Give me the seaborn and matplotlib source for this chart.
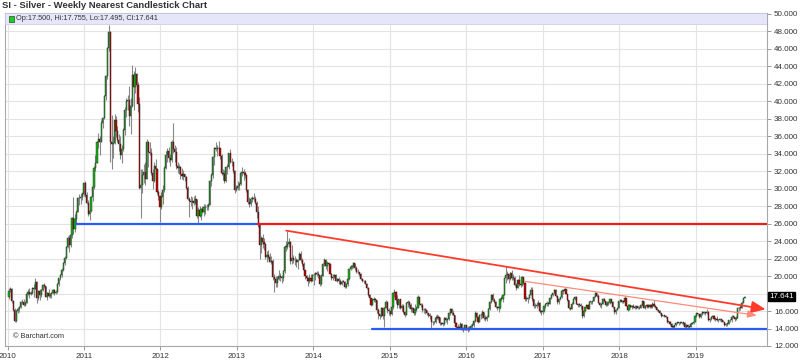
import numpy as np
import pandas as pd
import matplotlib
matplotlib.use("Agg")
import matplotlib.pyplot as plt
import matplotlib.dates as mdates
from matplotlib.patches import Rectangle
import seaborn as sns

# Weekly bars (Friday closes), one row per year 2010..2019
first_week = "2010-01-08"
first_open = 17.60  # open of the first bar; later opens are the prior close

close = [
    18.35, 18.55, 17.10, 16.17, 14.84, 15.97, 16.25, 16.43, 16.98, 17.07, 16.72, 16.91, 17.98, 18.18, 17.92, 18.09, 18.61, 18.55, 19.31, 17.46, 18.31, 17.87, 18.40, 19.01, 18.87, 17.66, 18.04, 17.73, 17.92, 18.04, 18.40, 18.10, 18.18, 19.06, 19.78, 20.13, 20.75, 21.50, 22.10, 23.27, 24.41, 23.50, 24.72, 26.66, 25.44, 26.52, 27.38, 28.88, 28.90, 29.04, 29.34, 30.63,
    29.32, 28.40, 27.06, 27.40, 29.02, 30.18, 32.40, 32.95, 35.39, 35.71, 35.36, 37.51, 38.03, 40.61, 42.85, 46.04, 47.90, 35.29, 35.08, 35.27, 37.81, 36.55, 35.59, 35.06, 33.83, 34.52, 36.73, 39.05, 40.05, 40.11, 38.34, 39.51, 43.02, 41.69, 43.13, 41.82, 39.72, 30.07, 30.46, 31.53, 31.87, 31.13, 35.37, 34.21, 34.09, 31.74, 30.86, 32.63, 32.21, 29.61, 29.17, 27.91,
    29.02, 29.90, 32.41, 33.80, 34.27, 33.48, 33.26, 35.35, 34.51, 34.21, 32.60, 32.38, 32.48, 31.64, 31.49, 31.68, 31.28, 30.12, 28.87, 28.62, 28.42, 28.58, 28.40, 28.82, 26.90, 27.61, 26.90, 27.63, 27.38, 27.86, 27.87, 27.92, 28.15, 30.86, 31.60, 33.59, 34.63, 34.54, 34.63, 34.65, 33.71, 31.81, 31.65, 30.86, 32.46, 32.44, 34.05, 33.09, 33.00, 32.05, 29.86, 30.04,
    30.35, 30.53, 31.79, 31.88, 31.83, 31.57, 29.81, 28.51, 28.26, 28.85, 28.87, 28.87, 28.35, 27.37, 25.87, 23.52, 24.31, 23.95, 23.71, 22.22, 22.44, 22.22, 21.63, 21.68, 19.87, 19.68, 19.23, 19.70, 20.06, 19.88, 19.83, 20.58, 23.32, 23.32, 23.64, 23.93, 21.68, 22.08, 21.84, 21.80, 21.61, 21.86, 22.54, 21.82, 21.42, 20.75, 19.97, 19.82, 19.48, 19.75, 19.46, 20.10,
    20.07, 20.37, 20.28, 20.08, 19.15, 20.06, 21.40, 21.85, 21.20, 21.50, 21.42, 20.22, 19.78, 19.95, 20.10, 19.47, 19.67, 19.45, 19.09, 19.37, 19.36, 18.71, 19.05, 19.66, 20.78, 21.06, 21.15, 21.49, 20.90, 20.52, 20.43, 20.28, 19.71, 19.38, 19.40, 19.15, 18.63, 17.80, 17.49, 16.73, 17.31, 17.35, 17.21, 16.10, 15.68, 15.46, 16.37, 15.45, 16.40, 17.07, 16.17, 15.99,
    15.68, 16.41, 18.08, 18.13, 17.22, 16.66, 17.33, 16.31, 16.60, 15.89, 15.57, 16.87, 16.98, 16.73, 16.20, 16.40, 15.73, 16.13, 16.38, 17.62, 16.77, 16.70, 16.07, 16.10, 16.14, 15.77, 15.55, 15.40, 14.76, 14.72, 14.71, 15.26, 15.22, 15.34, 14.63, 14.56, 14.54, 15.20, 15.01, 15.11, 15.79, 16.20, 15.76, 15.58, 14.67, 14.21, 14.11, 14.10, 14.52, 13.88, 13.86, 14.35,
    13.82, 14.01, 14.01, 14.27, 14.38, 14.83, 15.79, 15.31, 14.71, 15.53, 15.51, 15.87, 15.18, 15.07, 15.34, 16.24, 16.99, 17.83, 17.29, 17.06, 16.48, 16.36, 16.34, 17.41, 17.39, 17.80, 19.77, 20.11, 20.29, 19.63, 20.38, 19.80, 19.82, 19.03, 18.68, 19.55, 19.09, 18.93, 19.84, 19.23, 17.35, 17.42, 17.53, 17.83, 18.35, 17.37, 16.58, 16.55, 16.70, 16.94, 16.03, 15.92, 15.99,
    16.55, 16.78, 16.94, 16.81, 17.52, 17.82, 18.01, 18.38, 17.70, 17.00, 17.41, 17.60, 18.28, 18.29, 18.54, 17.94, 17.23, 16.32, 16.29, 16.86, 17.40, 17.55, 16.85, 16.72, 16.68, 16.56, 15.43, 16.00, 16.46, 16.72, 16.27, 17.02, 17.02, 17.11, 17.62, 18.03, 17.71, 16.95, 16.66, 16.81, 17.38, 17.13, 16.72, 16.88, 16.90, 17.34, 17.04, 16.43, 15.86, 16.13, 16.34, 17.15,
    17.26, 17.08, 17.05, 17.47, 16.63, 16.10, 16.67, 16.47, 16.59, 16.49, 16.33, 16.53, 16.31, 16.37, 16.67, 17.13, 16.35, 16.57, 16.70, 16.48, 16.74, 16.44, 16.81, 16.54, 16.47, 16.11, 16.00, 15.82, 15.47, 15.49, 15.41, 15.31, 14.79, 14.80, 14.46, 14.21, 14.18, 14.35, 14.64, 14.64, 14.61, 14.61, 14.73, 14.66, 14.17, 14.44, 14.20, 14.16, 14.51, 14.66, 14.73, 15.45,
    15.72, 15.63, 15.28, 15.68, 15.89, 15.81, 15.78, 15.90, 15.03, 15.09, 15.35, 15.45, 15.09, 15.11, 15.00, 14.95, 15.07, 14.93, 14.78, 14.43, 14.55, 14.56, 14.95, 14.93, 15.37, 15.33, 15.04, 15.21, 16.32, 16.39, 16.37, 16.95, 17.50, 17.641,
]

high = [
    18.6, 18.8, 18.6, 17.3, 16.4, 16.1, 16.5, 16.6, 17.1, 17.4, 17.4, 17.1, 18.1, 18.5, 18.6, 18.3, 18.8, 19.1, 19.8, 19.4, 18.4, 18.5, 18.5, 19.1, 19.2, 18.9, 18.2, 18.5, 18.1, 18.2, 18.5, 18.5, 18.4, 19.2, 19.8, 20.2, 20.9, 21.6, 22.3, 23.4, 24.6, 24.7, 24.8, 26.8, 29.0, 27.1, 27.6, 29.0, 29.4, 29.5, 29.6, 30.8,
    30.9, 29.6, 28.7, 27.9, 29.2, 30.4, 32.6, 33.9, 35.5, 36.4, 36.0, 37.9, 38.2, 40.7, 43.0, 46.2, 48.7, 48.0, 38.4, 36.0, 38.6, 38.3, 37.2, 36.2, 36.0, 35.0, 36.9, 39.4, 40.4, 40.7, 41.7, 40.4, 44.2, 43.5, 43.9, 43.2, 42.2, 40.5, 32.3, 32.3, 32.8, 33.1, 35.7, 35.4, 35.3, 34.7, 32.3, 33.1, 33.4, 32.4, 29.8, 29.3,
    29.6, 30.4, 32.6, 34.3, 34.7, 34.8, 34.0, 35.6, 37.5, 35.0, 34.8, 33.1, 32.8, 32.6, 32.4, 32.1, 31.7, 31.5, 30.3, 29.0, 29.2, 29.0, 29.2, 29.3, 28.8, 27.9, 28.0, 27.8, 28.0, 28.2, 28.3, 28.2, 28.4, 31.0, 31.8, 33.7, 34.8, 35.3, 35.0, 35.4, 34.7, 34.0, 32.2, 32.1, 32.6, 32.8, 34.1, 34.5, 33.5, 33.2, 32.1, 30.4,
    30.9, 30.8, 31.9, 32.5, 32.2, 32.0, 31.7, 30.0, 29.0, 29.1, 29.2, 29.5, 29.2, 28.6, 28.0, 26.0, 24.6, 24.8, 24.3, 23.8, 22.9, 23.0, 22.6, 22.3, 22.0, 20.2, 20.0, 20.0, 20.7, 20.3, 20.1, 20.7, 23.4, 24.0, 25.2, 24.3, 24.0, 23.5, 22.4, 22.3, 22.1, 22.0, 22.8, 22.9, 22.1, 21.6, 20.7, 20.1, 19.9, 20.2, 20.2, 20.2,
    20.3, 20.5, 20.6, 20.6, 20.1, 20.2, 21.5, 22.1, 21.9, 21.7, 21.6, 21.5, 20.3, 20.2, 20.2, 20.2, 19.8, 19.9, 19.7, 19.5, 19.6, 19.4, 19.2, 19.8, 20.8, 21.3, 21.3, 21.6, 21.5, 21.1, 20.8, 20.5, 20.3, 19.8, 19.6, 19.6, 19.2, 18.8, 17.9, 17.5, 17.5, 17.6, 17.5, 17.3, 16.3, 15.7, 16.5, 16.5, 16.5, 17.3, 17.2, 16.3,
    16.0, 16.6, 18.2, 18.5, 18.3, 17.8, 17.4, 17.4, 16.8, 16.8, 16.0, 17.0, 17.3, 17.2, 16.9, 16.5, 16.4, 16.8, 16.6, 17.8, 17.6, 16.9, 16.9, 16.3, 16.3, 16.1, 15.8, 15.8, 15.4, 14.9, 14.9, 15.5, 15.7, 15.6, 15.2, 14.8, 14.8, 15.3, 15.3, 15.2, 15.9, 16.3, 16.3, 16.1, 15.6, 14.8, 14.5, 14.3, 14.7, 14.6, 14.2, 14.5,
    14.4, 14.3, 14.3, 14.5, 14.6, 15.0, 16.0, 15.9, 15.3, 15.7, 15.8, 16.1, 15.8, 15.5, 15.5, 16.4, 17.2, 17.9, 18.1, 17.5, 17.1, 16.6, 16.5, 17.5, 17.7, 17.9, 19.8, 21.1, 20.6, 20.1, 20.5, 20.7, 20.2, 20.0, 19.2, 19.7, 20.1, 19.3, 20.0, 19.9, 19.3, 17.7, 17.6, 17.9, 18.7, 18.7, 17.4, 16.9, 17.0, 17.3, 17.0, 16.1, 16.2,
    16.6, 16.9, 17.1, 17.0, 17.6, 17.9, 18.1, 18.5, 18.5, 17.8, 17.5, 17.6, 18.4, 18.4, 18.6, 18.5, 18.0, 17.3, 16.5, 17.0, 17.5, 17.7, 17.7, 16.9, 16.9, 16.9, 16.6, 16.1, 16.5, 16.8, 16.8, 17.2, 17.2, 17.2, 17.7, 18.2, 18.0, 17.9, 17.0, 16.9, 17.5, 17.5, 17.2, 17.2, 17.2, 17.4, 17.2, 17.1, 16.5, 16.2, 16.4, 17.2,
    17.4, 17.3, 17.3, 17.7, 17.4, 16.8, 16.8, 16.7, 16.7, 16.8, 16.7, 16.6, 16.6, 16.6, 16.8, 17.3, 17.2, 16.7, 16.8, 16.8, 16.8, 16.8, 17.0, 17.3, 16.7, 16.5, 16.2, 16.1, 15.8, 15.6, 15.6, 15.5, 15.3, 14.9, 14.9, 14.6, 14.3, 14.4, 14.7, 14.8, 14.8, 14.7, 14.8, 14.8, 14.7, 14.5, 14.5, 14.3, 14.6, 14.8, 14.8, 15.5,
    15.8, 15.8, 15.7, 15.8, 16.0, 16.0, 15.9, 16.2, 16.0, 15.2, 15.4, 15.6, 15.5, 15.2, 15.4, 15.1, 15.2, 15.1, 15.0, 14.8, 14.6, 14.6, 15.0, 15.1, 15.5, 15.5, 15.3, 15.4, 16.4, 16.5, 16.6, 17.2, 17.5, 17.755,
]

low = [
    17.4, 18.2, 16.9, 16.0, 14.7, 14.8, 15.8, 15.9, 16.4, 16.8, 16.6, 16.6, 16.9, 17.8, 17.5, 17.8, 17.9, 17.6, 18.5, 16.9, 17.3, 17.3, 17.6, 18.3, 18.6, 17.6, 17.3, 17.6, 17.5, 17.5, 17.9, 17.8, 17.9, 18.1, 18.9, 19.6, 19.9, 20.6, 21.3, 21.9, 23.2, 22.8, 23.3, 24.4, 24.8, 25.0, 26.0, 27.3, 28.1, 28.2, 28.7, 29.2,
    29.0, 28.2, 26.9, 26.4, 27.3, 28.6, 30.0, 32.0, 33.1, 34.7, 33.9, 35.3, 36.9, 38.0, 40.2, 42.6, 45.8, 33.0, 32.3, 33.5, 35.1, 35.9, 35.3, 34.3, 33.4, 32.9, 34.3, 36.1, 38.2, 39.0, 37.2, 36.2, 39.4, 39.0, 40.9, 40.0, 38.8, 30.0, 26.6, 29.5, 30.7, 30.4, 31.1, 32.5, 33.8, 31.6, 30.0, 30.8, 31.6, 29.4, 28.7, 26.2,
    27.7, 28.3, 29.6, 32.2, 33.0, 33.1, 32.6, 33.0, 34.1, 33.0, 32.3, 31.8, 31.7, 31.1, 31.1, 31.0, 30.9, 30.0, 28.7, 26.8, 28.0, 27.7, 28.1, 28.2, 26.6, 26.1, 26.8, 26.4, 27.2, 26.9, 27.1, 27.6, 27.6, 28.2, 30.3, 31.2, 32.7, 34.3, 33.7, 34.2, 33.4, 31.6, 31.0, 30.6, 30.8, 31.7, 32.3, 32.9, 32.6, 31.8, 29.5, 29.7,
    29.8, 29.9, 30.4, 31.5, 31.0, 31.2, 29.6, 28.2, 27.9, 28.0, 28.5, 28.6, 28.2, 26.6, 25.6, 22.0, 22.6, 23.2, 23.0, 22.0, 21.6, 21.9, 21.6, 21.4, 19.6, 18.2, 18.8, 18.8, 19.5, 19.4, 19.2, 19.4, 20.4, 22.9, 23.1, 23.3, 21.4, 21.4, 21.5, 21.3, 21.0, 20.8, 21.8, 21.6, 21.2, 20.3, 19.7, 19.4, 18.9, 19.2, 19.3, 19.4,
    19.0, 19.6, 20.0, 19.8, 18.9, 19.0, 20.0, 21.2, 20.8, 20.6, 21.1, 20.2, 19.6, 19.5, 19.8, 19.4, 19.3, 19.1, 19.0, 19.0, 19.3, 18.6, 18.6, 18.9, 19.5, 20.7, 20.8, 20.9, 20.7, 20.4, 20.2, 20.0, 19.6, 19.3, 19.2, 19.1, 18.5, 17.7, 17.1, 16.6, 16.7, 17.0, 17.0, 15.8, 15.1, 15.1, 15.3, 15.1, 14.2, 16.3, 15.8, 15.6,
    15.4, 15.6, 16.2, 17.6, 16.9, 16.4, 16.4, 16.2, 16.0, 15.8, 15.3, 15.5, 16.5, 16.4, 15.9, 15.9, 15.6, 15.6, 16.0, 16.3, 16.7, 16.5, 15.9, 15.8, 15.7, 15.6, 15.3, 15.1, 14.1, 14.4, 14.5, 14.6, 15.1, 15.0, 14.4, 14.4, 14.3, 14.4, 14.7, 14.5, 15.0, 15.6, 15.6, 15.5, 14.6, 14.1, 14.0, 13.9, 13.9, 13.8, 13.6, 13.8,
    13.8, 13.6, 13.7, 13.9, 14.0, 14.2, 14.8, 15.1, 14.6, 14.7, 15.1, 15.2, 15.0, 14.9, 14.9, 15.3, 16.1, 16.9, 17.2, 16.9, 16.3, 16.1, 15.9, 16.2, 17.1, 17.0, 17.8, 19.2, 19.6, 19.2, 19.5, 19.6, 19.5, 18.9, 18.4, 18.6, 18.9, 18.8, 18.9, 19.1, 17.1, 17.1, 16.9, 17.4, 17.8, 17.1, 16.4, 16.3, 16.4, 16.6, 15.8, 15.6, 15.7,
    15.9, 16.4, 16.6, 16.6, 16.8, 17.4, 17.7, 17.9, 17.6, 16.8, 16.8, 17.3, 17.5, 18.0, 18.2, 17.9, 17.2, 16.2, 16.1, 16.2, 16.8, 17.3, 16.8, 16.5, 16.5, 16.2, 15.2, 15.3, 15.9, 16.3, 16.2, 16.2, 16.8, 16.8, 17.1, 17.6, 17.6, 16.9, 16.5, 16.4, 16.9, 17.0, 16.6, 16.6, 16.7, 16.8, 16.9, 16.3, 15.7, 15.7, 16.1, 16.3,
    17.0, 16.9, 16.9, 17.0, 16.6, 16.0, 16.1, 16.3, 16.2, 16.4, 16.2, 16.2, 16.2, 16.2, 16.3, 16.6, 16.3, 16.2, 16.3, 16.3, 16.4, 16.4, 16.4, 16.5, 16.3, 16.0, 15.9, 15.7, 15.3, 15.4, 15.3, 15.2, 14.6, 14.7, 14.4, 14.0, 14.0, 14.1, 14.3, 14.5, 14.4, 14.5, 14.5, 14.4, 14.1, 14.0, 14.1, 14.1, 14.2, 14.5, 14.5, 14.7,
    15.3, 15.5, 15.2, 15.2, 15.6, 15.7, 15.6, 15.7, 14.9, 14.8, 15.0, 15.2, 15.0, 14.9, 14.9, 14.8, 14.9, 14.8, 14.7, 14.3, 14.3, 14.3, 14.5, 14.8, 14.8, 15.2, 14.9, 15.0, 15.2, 16.0, 16.1, 16.3, 16.9, 17.495,
]

# drawn levels and trend lines
resist_level = 26.0
resist_old = ["2010-11-22", "2013-04-10"]   # blue part
resist_new = ["2013-04-10", "2019-12-07"]   # red part
support_level = 14.0
support_span = ["2014-10-06", "2019-12-07"]
trend_main_dates = ["2013-08-24", "2019-11-30"]
trend_main_prices = [25.2, 16.2]
trend_thin_dates = ["2016-10-06", "2019-10-19"]
trend_thin_prices = [19.4, 15.5]

years = list(range(2010, 2020))
price_ticks = list(range(12, 51, 2))

assert len(close) == len(high) == len(low), (len(close), len(high), len(low))

df = pd.DataFrame({
    "date": pd.date_range(first_week, periods=len(close), freq="W-FRI"),
    "close": close, "high": high, "low": low,
})
df["open"] = [first_open] + close[:-1]
df["high"] = df[["high", "open", "close"]].max(axis=1)
df["low"] = df[["low", "open", "close"]].min(axis=1)
df["x"] = mdates.date2num(df["date"])

def dnum(d):
    return mdates.date2num(pd.Timestamp(d))

sns.set_theme(style="white")
plt.rcParams["font.family"] = ["Liberation Sans", "DejaVu Sans"]

fig = plt.figure(figsize=(8, 3.63), dpi=100)
ax = fig.add_axes([5 / 800, 17 / 363, 762 / 800, 333 / 363])

green = "#12b812"
red = "#c80000"

# grid
for v in price_ticks:
    ax.axhline(v, color="#e3e3e3", lw=0.8, zorder=0)
for y in years:
    ax.axvline(dnum(f"{y}-01-01"), color="#e3e3e3", lw=0.8, zorder=0)

# candles
up = df["close"] >= df["open"]
ax.vlines(df["x"], df["low"], df["high"], color="#888888", lw=0.8, zorder=2)
body = (df["close"] - df["open"]).abs().clip(lower=0.08)
bottom = df[["open", "close"]].min(axis=1)
ax.bar(df["x"], body, bottom=bottom, width=5.5, color=np.where(up, green, red),
       edgecolor="#222222", linewidth=0.3, zorder=3)

# horizontal levels
lvl = pd.DataFrame({
    "x": [dnum(d) for d in resist_old + resist_new + support_span],
    "y": [resist_level] * 4 + [support_level] * 2,
    "seg": ["a", "a", "b", "b", "c", "c"],
})
sns.lineplot(data=lvl, x="x", y="y", hue="seg", palette={"a": "#2a5cf0", "b": "#ee1c1c", "c": "#2a5cf0"},
             lw=1.6, legend=False, ax=ax, zorder=4)

# trend arrows
ax.annotate("", xy=(dnum(trend_main_dates[1]), trend_main_prices[1]),
            xytext=(dnum(trend_main_dates[0]), trend_main_prices[0]),
            arrowprops=dict(arrowstyle="-|>,head_length=0.7,head_width=0.3", color="#ff3a2a",
                            lw=1.3, shrinkA=0, shrinkB=0), zorder=4)
ax.annotate("", xy=(dnum(trend_thin_dates[1]), trend_thin_prices[1]),
            xytext=(dnum(trend_thin_dates[0]), trend_thin_prices[0]),
            arrowprops=dict(arrowstyle="-|>,head_length=0.45,head_width=0.18", color="#ff8a7a",
                            lw=0.9, shrinkA=0, shrinkB=0), zorder=4)

ax.set_xlim(dnum("2009-12-20"), dnum("2019-12-07"))
ax.set_ylim(12, 50.1)
ax.set_xlabel("")
ax.set_ylabel("")

ax.set_xticks([dnum(f"{y}-01-01") for y in years])
ax.set_xticklabels([str(y) for y in years], fontsize=5.8, color="#333333")
ax.yaxis.tick_right()
ax.set_yticks(price_ticks)
ax.set_yticklabels(["" if v == 18 else f"{v:.3f}" for v in price_ticks], fontsize=5.8, color="#333333")
ax.tick_params(axis="both", length=3, width=0.6, color="#888888", pad=2)
ax.tick_params(axis="x", bottom=True, pad=2)
for s in ax.spines.values():
    s.set_color("#a8a8a8")
    s.set_linewidth(0.8)

# header band with last-bar values
ax.add_patch(Rectangle((0, 1 - 11 / 333), 1, 11 / 333, transform=ax.transAxes,
                       facecolor="#e6e6fa", edgecolor="#c8c8dc", lw=0.5, zorder=5))
ax.add_patch(Rectangle((4 / 762, 1 - 9 / 333), 5 / 762, 6 / 333, transform=ax.transAxes,
                       facecolor="#22cc22", edgecolor="#205020", lw=0.5, zorder=6))
last = df.iloc[-1]
ax.text(11 / 762, 1 - 5.5 / 333,
        f"Op:{last['open']:.3f}, Hi:{last['high']:.3f}, Lo:{last['low']:.3f}, Cl:{last['close']:.3f}",
        transform=ax.transAxes, fontsize=5.3, color="#333333", va="center", ha="left", zorder=6)

# last price marker on the right axis
ax.text(1.003, last["close"], f"{last['close']:.3f}", transform=ax.get_yaxis_transform(),
        fontsize=5.8, color="white", va="center", ha="left", zorder=7, clip_on=False,
        bbox=dict(boxstyle="square,pad=0.15", facecolor="black", edgecolor="black"))

ax.text(8 / 762, 10 / 333, "\u00a9 Barchart.com", transform=ax.transAxes,
        fontsize=5.3, color="#333333", va="center", ha="left", zorder=6)

fig.text(2 / 800, 1 - 6 / 363, "SI - Silver - Weekly Nearest Candlestick Chart",
         fontsize=6.8, fontweight="bold", color="#333333", va="center", ha="left")

fig.savefig("out.png", dpi=100, facecolor="white")
